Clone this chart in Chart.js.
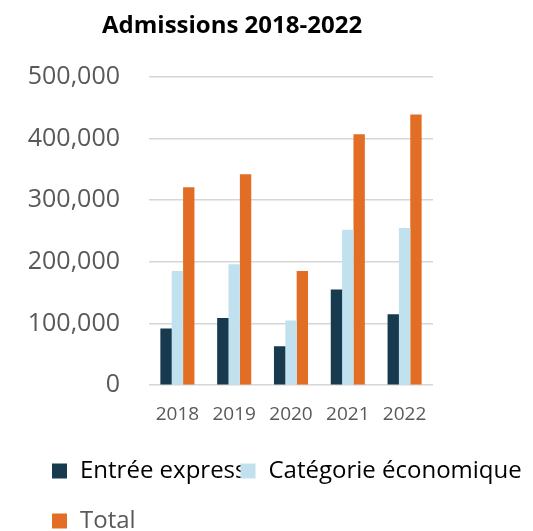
<!DOCTYPE html>
<html>
<head>
<meta charset="utf-8">
<script src="https://cdn.jsdelivr.net/npm/chart.js@4.4.1/dist/chart.umd.min.js"></script>
<style>
  html, body { margin: 0; padding: 0; background: #ffffff; overflow: hidden; }
</style>
</head>
<body>
<canvas id="admChart" width="533" height="531"></canvas>
<script>
// === Values ===
const years = ["2018", "2019", "2020", "2021", "2022"];
const entreeExpress = [92000, 109000, 63000, 155000, 115000];
const categorieEco = [185000, 196000, 105000, 252000, 255000];
const totalAdmissions = [321000, 342000, 185000, 407000, 439000];
const yTicks = [0, 100000, 200000, 300000, 400000, 500000];

// === Excel-like legend: left aligned rows under the axis ===
const excelLegend = {
  id: "excelLegend",
  afterLayout(chart) {
    chart.titleBlock.left = 102; // title sits off-centre in the original
  },
  afterDraw(chart) {
    const ctx = chart.ctx;
    const box = 15, gap = 13, startX = 52, rowStep = 50;
    let x = startX, y = 471;
    ctx.save();
    ctx.font = "24px 'Open Sans'";
    ctx.textBaseline = "middle";
    chart.data.datasets.forEach((ds, i) => {
      const w = ctx.measureText(ds.label).width;
      if (x > startX && x + box + gap + w > chart.width) {
        x = startX;
        y += rowStep;
      }
      ctx.fillStyle = ds.backgroundColor;
      ctx.fillRect(x, y - box / 2, box, box);
      ctx.fillStyle = i === 2 ? "#595959" : "#000000";
      ctx.fillText(ds.label, x + box + gap, y);
      x += box + gap + w - 6;
    });
    ctx.restore();
  },
};

const ctx = document.getElementById("admChart").getContext("2d");

new Chart(ctx, {
  type: "bar",
  data: {
    labels: years,
    datasets: [
      { label: "Entrée express", data: entreeExpress, backgroundColor: "#173a4f" },
      { label: "Catégorie économique", data: categorieEco, backgroundColor: "#c1e1ee" },
      { label: "Total", data: totalAdmissions, backgroundColor: "#e26d24" },
    ],
  },
  options: {
    responsive: false,
    animation: false,
    layout: { padding: { left: 0, right: 100, top: 0, bottom: 95 } },
    datasets: {
      bar: { categoryPercentage: 0.6, barPercentage: 1.0, borderWidth: 0 },
    },
    scales: {
      x: {
        grid: { display: false },
        border: { display: false },
        ticks: {
          color: "#595959",
          padding: 10,
          font: { family: "'Open Sans'", size: 19 },
        },
      },
      y: {
        min: 0,
        max: 500000,
        afterBuildTicks: (axis) => {
          axis.ticks = yTicks.map((v) => ({ value: v }));
        },
        afterFit: (scale) => {
          scale.width = 149;
        },
        grid: { color: "#d6d6d6", lineWidth: 1.6, drawTicks: false },
        border: { display: false },
        ticks: {
          color: "#595959",
          padding: 29,
          font: { family: "'Open Sans'", size: 25 },
          callback: (v) => v.toLocaleString("en-US"),
        },
      },
    },
    plugins: {
      legend: { display: false },
      tooltip: { enabled: false },
      title: {
        display: true,
        text: "Admissions 2018-2022",
        align: "start",
        color: "#000000",
        font: { family: "'Open Sans'", size: 24, weight: "bold" },
        padding: { top: 12, bottom: 36 },
      },
    },
  },
  plugins: [excelLegend],
});
</script>
</body>
</html>
